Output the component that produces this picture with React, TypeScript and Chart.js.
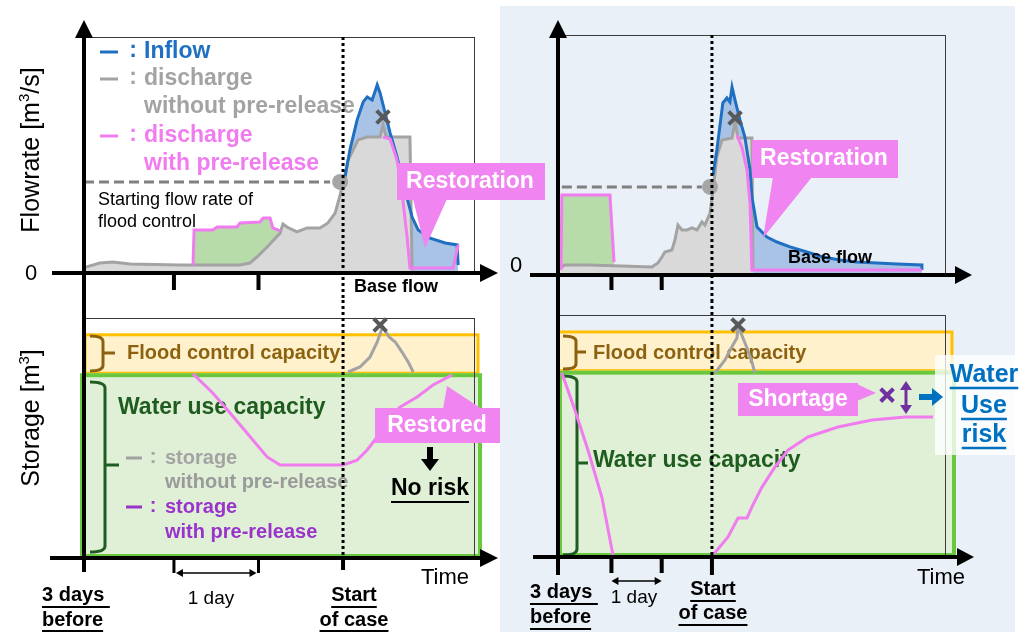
import React, { useEffect, useRef } from "react";
import { Chart, registerables } from "chart.js";

Chart.register(...registerables);

type Pt = [number, number];

// ---------------- DATA (x: hours from start of case, y: relative 0-100) ----------------
const X_RANGE_LEFT: Pt = [-72, 36.4];
const X_RANGE_RIGHT: Pt = [-72, 109];
const DAY_TICKS = [-47, -23.5];
const START_OF_CASE = 0;
const FLOOD_TOP = 93;
const WATER_TOP = 77;

// Left (pre-release worked) – flowrate
const LT_INFLOW: Pt[] = [[0.3, 38.5], [1.9, 52.1], [3.9, 64.8], [5.6, 72.5], [6.7, 74.6], [8.1, 73.3], [9.5, 79.7], [10.3, 76.3], [11.7, 67.8], [13.1, 59.3], [15.0, 49.2], [17.2, 35.2], [19.2, 23.7], [20.9, 18.2], [24.2, 14.8], [28.4, 12.7], [31.7, 11.9], [32.0, 3.4]];
const LT_NO_PRE: Pt[] = [[-71.5, 2.5], [-67.6, 4.2], [-64, 4.7], [-59.2, 3.8], [-45.3, 3.4], [-28.6, 3.4], [-25.9, 4.2], [-23.9, 6.8], [-21.1, 11.0], [-17.5, 16.9], [-16.7, 20.8], [-15.6, 19.5], [-12.8, 17.4], [-10.0, 19.1], [-6.4, 19.1], [-4.2, 21.2], [-2.2, 25.4], [-0.8, 33.1], [0, 38.1], [1.4, 47.9], [4.2, 56.4], [6.7, 57.6], [10.3, 57.6], [11.1, 62.7], [12.0, 57.6], [18.6, 57.6], [19.2, 1.0]];
const LT_PRE: Pt[] = [[-41.7, 3.4], [-41.4, 18.2], [-36.2, 18.2], [-35.0, 19.5], [-29.5, 19.5], [-28.6, 21.2], [-23.1, 21.6], [-22.2, 23.3], [-20.3, 23.3], [-19.5, 19.1], [-17.5, 17.8]];
const LT_PRE_FLOOD: Pt[] = [[11.1, 57.6], [13.1, 56.8], [15.0, 47.9], [16.4, 33.9], [17.8, 15.3], [18.6, 2.1], [30.6, 2.1], [32.0, 11.9]];
const LT_FLOOD_START: Pt[] = [[-72, 38.6], [-3.6, 38.6]];
const LT_CIRCLE: Pt = [-0.8, 38.6];
const LT_CROSS: Pt = [11.1, 66.1];

// Right (pre-release failed) – flowrate
const RT_INFLOW: Pt[] = [[0.5, 41.7], [2.3, 52.1], [5.1, 71.7], [7.0, 73.75], [8.4, 72.1], [9.4, 78.3], [10.8, 72.9], [13.1, 64.6], [15.4, 57.5], [17.8, 43.75], [18.7, 32.5], [21.1, 20], [25.7, 15.8], [30.4, 13.75], [36.5, 11.7], [44.4, 9.6], [51.9, 7.5], [59.9, 6.25], [67.8, 5.4], [77.2, 5.0], [86.5, 4.6], [98.2, 4.2], [98.2, 2.1]];
const RT_NO_PRE: Pt[] = [[-71, 2.9], [-68.8, 4.2], [-58, 4.2], [-42.1, 3.75], [-28.1, 3.3], [-25.3, 5.0], [-23.4, 7.5], [-22.0, 9.6], [-18.7, 10.4], [-17.3, 14.6], [-15.9, 20.8], [-14.0, 18.75], [-11.7, 18.75], [-9.4, 19.6], [-7.0, 18.75], [-4.7, 22.1], [-3.3, 20.8], [-0.9, 25.8], [0.5, 35.4], [2.3, 49.2], [4.7, 56.25], [9.4, 57.1], [10.8, 63.75], [12.2, 57.1], [18.7, 57.1], [19.2, 2.9]];
const RT_PRE: Pt[] = [[-70.6, 2.1], [-70.2, 33.3], [-47.7, 33.3], [-45.8, 5.4]];
const RT_PRE_FLOOD: Pt[] = [[11.7, 58.3], [14.0, 53.3], [16.4, 43.75], [17.8, 30], [18.7, 2.1], [98.2, 2.1]];
const RT_FLOOD_START: Pt[] = [[-70.2, 36.7], [-4.7, 36.7]];
const RT_CIRCLE: Pt = [-0.9, 36.7];
const RT_CROSS: Pt = [10.8, 65.4];

// Left – storage
const LB_NO_PRE: Pt[] = [[1.4, 77.5], [4.7, 79.6], [7.5, 83.75], [9.5, 90], [11.0, 96.5], [12.8, 92.1], [14.5, 90], [16.4, 85.8], [18.1, 81.7], [19.5, 77.5]];
const LB_PRE: Pt[] = [[-41.7, 76.7], [-36.2, 68.75], [-31.4, 60.4], [-26.7, 52.1], [-21.1, 42.1], [-17.5, 38.75], [-8.3, 38.75], [0, 38.75], [3.9, 40.8], [6.7, 45], [9.5, 50.4], [12.2, 57.5], [15.9, 62.9], [20.6, 67.1], [25.0, 72.1], [30.3, 76.25]];
const LB_CROSS: Pt = [10.3, 97.1];

// Right – storage
const RB_NO_PRE: Pt[] = [[1.4, 76.0], [6.1, 81.4], [9.8, 87.6], [11.7, 90.5], [12.2, 95.5], [14.5, 90.5], [16.4, 86.4], [18.7, 80.6], [20.1, 76.0]];
const RB_PRE_DRAW: Pt[] = [[-70.2, 76.0], [-64.1, 60.7], [-58.0, 44.2], [-51.5, 24.8], [-46.3, 0.8]];
const RB_PRE_RECOVER: Pt[] = [[0.5, 0.8], [7.5, 8.3], [12.2, 16.1], [16.4, 16.1], [18.7, 20.7], [23.4, 28.9], [29.5, 37.2], [35.6, 44.2], [44.9, 49.6], [58.9, 53.7], [74.9, 56.6], [90.3, 57.9], [103.4, 57.9]];
const RB_CROSS: Pt = [12.2, 95.9];
const RB_SHORT_CROSS: Pt = [81.9, 66.9];

// ---------------- STYLE ----------------
const W = 1030;
const H = 632;
const FONT = "'Liberation Sans', Arial, Helvetica, sans-serif";
const BLUE = "#1F6FC2";
const BLUE_FILL = "#A9C3E6";
const GRAY_LINE = "#A3A3A3";
const GRAY_FILL = "#D9D9D9";
const PINK = "#F07CF0";
const GREEN_FILL = "#B7DBA9";
const ST_GREEN_FILL = "#E0F0D6";
const ST_GREEN_EDGE = "#6AC83F";
const ORANGE_FILL = "#FFF1CC";
const ORANGE_EDGE = "#FFC000";
const BROWN = "#8C6210";
const DKGREEN = "#1F5C1F";
const PURPLE = "#7030A0";
const PURPLE_TEXT = "#9933CC";
const XGRAY = "#595959";
const DASH_GRAY = "#808080";
const CALLOUT = "#F084F0";
const BG_RIGHT = "#EAF0F7";
const RISK_BLUE = "#0070C0";

// ---------------- helpers ----------------
type Ctx = CanvasRenderingContext2D;
const pts = (a: Pt[]) => a.map(([x, y]) => ({ x, y }));

function seg(ctx: Ctx, x1: number, y1: number, x2: number, y2: number, color: string, lw: number, dash: number[] = []) {
  ctx.save();
  ctx.beginPath();
  ctx.strokeStyle = color;
  ctx.lineWidth = lw;
  ctx.setLineDash(dash);
  ctx.moveTo(x1, y1);
  ctx.lineTo(x2, y2);
  ctx.stroke();
  ctx.restore();
}
function poly(ctx: Ctx, p: number[][], color: string) {
  ctx.save();
  ctx.beginPath();
  ctx.fillStyle = color;
  ctx.moveTo(p[0][0], p[0][1]);
  for (let i = 1; i < p.length; i++) ctx.lineTo(p[i][0], p[i][1]);
  ctx.closePath();
  ctx.fill();
  ctx.restore();
}
function txt(ctx: Ctx, s: string, x: number, y: number, size: number, color: string, bold = false, align: CanvasTextAlign = "left"): number {
  ctx.save();
  ctx.font = `${bold ? "bold " : ""}${size}px ${FONT}`;
  ctx.fillStyle = color;
  ctx.textAlign = align;
  ctx.textBaseline = "middle";
  ctx.fillText(s, x, y);
  const w = ctx.measureText(s).width;
  ctx.restore();
  return w;
}
function utxt(ctx: Ctx, s: string, x: number, y: number, size: number, color: string, bold: boolean, align: CanvasTextAlign, uy: number, lw = 2) {
  const w = txt(ctx, s, x, y, size, color, bold, align);
  const x1 = align === "center" ? x - w / 2 : x;
  seg(ctx, x1, uy, x1 + w, uy, color, lw);
}
function rotLabel(ctx: Ctx, pre: string, sup: string, post: string, cx: number, cy: number, size: number) {
  ctx.save();
  ctx.translate(cx, cy);
  ctx.rotate(-Math.PI / 2);
  const f = `${size}px ${FONT}`;
  const fs = `${Math.round(size * 0.6)}px ${FONT}`;
  ctx.font = f;
  const w1 = ctx.measureText(pre).width;
  const w3 = ctx.measureText(post).width;
  ctx.font = fs;
  const w2 = ctx.measureText(sup).width;
  let x = -(w1 + w2 + w3) / 2;
  ctx.fillStyle = "#000";
  ctx.textBaseline = "middle";
  ctx.textAlign = "left";
  ctx.font = f;
  ctx.fillText(pre, x, 0);
  x += w1;
  ctx.font = fs;
  ctx.fillText(sup, x, -size * 0.3);
  x += w2;
  ctx.font = f;
  ctx.fillText(post, x, 0);
  ctx.restore();
}
function brace(ctx: Ctx, x0: number, x1: number, x2: number, yTop: number, yMid: number, yBot: number, color: string, lw = 3) {
  const r = Math.min(6, (yMid - yTop) / 3);
  ctx.save();
  ctx.beginPath();
  ctx.strokeStyle = color;
  ctx.lineWidth = lw;
  ctx.lineJoin = "round";
  ctx.moveTo(x0, yTop);
  ctx.quadraticCurveTo(x1, yTop, x1, yTop + r);
  ctx.lineTo(x1, yBot - r);
  ctx.quadraticCurveTo(x1, yBot, x0, yBot);
  ctx.moveTo(x1, yMid);
  ctx.lineTo(x2, yMid);
  ctx.stroke();
  ctx.restore();
}
function callout(ctx: Ctx, rect: number[], tail: number[][], label: string, cx: number, cy: number) {
  ctx.save();
  ctx.fillStyle = CALLOUT;
  ctx.fillRect(rect[0], rect[1], rect[2] - rect[0], rect[3] - rect[1]);
  ctx.restore();
  poly(ctx, tail, CALLOUT);
  txt(ctx, label, cx, cy, 23, "#fff", true, "center");
}
function hArrowDouble(ctx: Ctx, x1: number, x2: number, y: number) {
  seg(ctx, x1 + 2, y, x2 - 2, y, "#000", 1.5);
  poly(ctx, [[x1, y], [x1 + 7, y - 4], [x1 + 7, y + 4]], "#000");
  poly(ctx, [[x2, y], [x2 - 7, y - 4], [x2 - 7, y + 4]], "#000");
}
function box(ctx: Ctx, ca: any) {
  ctx.save();
  ctx.strokeStyle = "#3a3a3a";
  ctx.lineWidth = 1;
  ctx.strokeRect(Math.round(ca.left) + 0.5, Math.round(ca.top) + 0.5, ca.right - ca.left, ca.bottom - ca.top);
  ctx.restore();
}
function legendRow(ctx: Ctx, y: number, color: string, label: string, size: number, d1: number, d2: number, cxCol: number, tx: number) {
  seg(ctx, d1, y, d2, y, color, 3);
  txt(ctx, ":", cxCol, y - 1, size, color, true, "center");
  txt(ctx, label, tx, y, size, color, true);
}

// ---------------- dataset builders ----------------
const fillDs = (d: Pt[], bg: string) => ({ data: pts(d), borderWidth: 0, borderColor: "rgba(0,0,0,0)", backgroundColor: bg, fill: "origin", pointRadius: 0 });
const lineDs = (d: Pt[], color: string, lw = 3, dash: number[] = []) => ({ data: pts(d), borderWidth: lw, borderColor: color, borderDash: dash, fill: false, pointRadius: 0 });
const grayDs = (d: Pt[]) => ({ data: pts(d), borderWidth: 3, borderColor: GRAY_LINE, backgroundColor: GRAY_FILL, fill: "origin", pointRadius: 0 });
const markDs = (p: Pt, style: string, r: number, color: string, bw: number) => ({
  data: pts([p]), showLine: false, pointStyle: style, pointRadius: r, pointBorderColor: color, pointBackgroundColor: color, pointBorderWidth: bw, clip: false,
});

function makeConfig(area: { l: number; t: number; r: number; b: number }, xr: Pt, layers: any[], before: (c: any) => void, after: (c: any) => void): any {
  const datasets = layers.map((d, i) => ({ tension: 0, ...d, order: layers.length - i }));
  return {
    type: "line",
    data: { datasets },
    options: {
      responsive: false,
      animation: false,
      events: [],
      layout: { padding: { left: area.l, top: area.t, right: W - area.r, bottom: H - area.b } },
      plugins: { legend: { display: false }, tooltip: { enabled: false }, title: { display: false } },
      scales: {
        x: { type: "linear", min: xr[0], max: xr[1], display: false },
        y: { type: "linear", min: 0, max: 100, display: false },
      },
    },
    plugins: [{ id: "decor", beforeDatasetsDraw: (c: any) => before(c), afterDatasetsDraw: (c: any) => after(c) }],
  };
}

// ---------------- charts ----------------
function cfgLT() {
  const layers = [
    fillDs(LT_INFLOW, BLUE_FILL),
    fillDs(LT_PRE, GREEN_FILL),
    grayDs(LT_NO_PRE),
    lineDs(LT_INFLOW, BLUE),
    lineDs(LT_PRE, PINK),
    lineDs(LT_PRE_FLOOD, PINK),
    lineDs(LT_FLOOD_START, DASH_GRAY, 3, [10, 5]),
    markDs(LT_CIRCLE, "circle", 8, "#A6A6A6", 0),
    markDs(LT_CROSS, "crossRot", 9, XGRAY, 4),
  ];
  const before = (c: any) => {
    const ctx: Ctx = c.ctx;
    box(ctx, c.chartArea);
    legendRow(ctx, 52, BLUE, "Inflow", 23, 100, 118, 133, 144);
    legendRow(ctx, 79, GRAY_LINE, "discharge", 23, 100, 118, 133, 144);
    txt(ctx, "without pre-release", 144, 107, 23, GRAY_LINE, true);
    legendRow(ctx, 136, PINK, "discharge", 23, 100, 118, 133, 144);
    txt(ctx, "with pre-release", 144, 164, 23, PINK, true);
    txt(ctx, "Starting flow rate of", 98, 200, 18, "#000");
    txt(ctx, "flood control", 98, 222, 18, "#000");
  };
  const after = (c: any) => {
    const ctx: Ctx = c.ctx;
    const ca = c.chartArea;
    const xs = c.scales.x;
    const x0 = xs.getPixelForValue(START_OF_CASE);
    seg(ctx, x0, ca.top, x0, 300, "#000", 3, [3, 3]);
    seg(ctx, ca.left, 36, ca.left, 300, "#000", 4);
    poly(ctx, [[ca.left - 9, 38], [ca.left + 9, 38], [ca.left, 20]], "#000");
    seg(ctx, 52, ca.bottom, 482, ca.bottom, "#000", 4);
    poly(ctx, [[480, ca.bottom - 9], [480, ca.bottom + 9], [498, ca.bottom]], "#000");
    DAY_TICKS.forEach((t) => { const x = xs.getPixelForValue(t); seg(ctx, x, ca.bottom, x, 290, "#000", 4); });
    txt(ctx, "0", 31, 274, 22, "#000", false, "center");
    rotLabel(ctx, "Flowrate [m", "3", "/s]", 32, 150, 25);
    txt(ctx, "Base flow", 396, 287, 18, "#000", true, "center");
    callout(ctx, [397, 163, 545, 200], [[413, 199], [447, 199], [425, 248]], "Restoration", 470, 182);
  };
  return makeConfig({ l: 84, t: 37, r: 474, b: 273 }, X_RANGE_LEFT, layers, before, after);
}

function cfgRT() {
  const layers = [
    fillDs(RT_INFLOW, BLUE_FILL),
    fillDs(RT_PRE, GREEN_FILL),
    grayDs(RT_NO_PRE),
    lineDs(RT_INFLOW, BLUE),
    lineDs(RT_PRE, PINK),
    lineDs(RT_PRE_FLOOD, PINK),
    lineDs(RT_FLOOD_START, DASH_GRAY, 3, [10, 5]),
    markDs(RT_CIRCLE, "circle", 8, "#A6A6A6", 0),
    markDs(RT_CROSS, "crossRot", 9, XGRAY, 4),
  ];
  const before = (c: any) => {
    box(c.ctx, c.chartArea);
  };
  const after = (c: any) => {
    const ctx: Ctx = c.ctx;
    const ca = c.chartArea;
    const xs = c.scales.x;
    const x0 = xs.getPixelForValue(START_OF_CASE);
    seg(ctx, x0, ca.top, x0, 300, "#000", 3, [3, 3]);
    seg(ctx, ca.left, 36, ca.left, 300, "#000", 4);
    poly(ctx, [[ca.left - 9, 38], [ca.left + 9, 38], [ca.left, 20]], "#000");
    seg(ctx, 530, ca.bottom, 957, ca.bottom, "#000", 4);
    poly(ctx, [[955, ca.bottom - 9], [955, ca.bottom + 9], [972, ca.bottom]], "#000");
    DAY_TICKS.forEach((t) => { const x = xs.getPixelForValue(t); seg(ctx, x, ca.bottom, x, 290, "#000", 4); });
    txt(ctx, "0", 516, 266, 22, "#000", false, "center");
    txt(ctx, "Base flow", 830, 258, 18, "#000", true, "center");
    callout(ctx, [752, 140, 898, 178], [[773, 177], [812, 177], [763, 238]], "Restoration", 824, 159);
  };
  return makeConfig({ l: 558, t: 35, r: 945, b: 275 }, X_RANGE_RIGHT, layers, before, after);
}

function storageBands(c: any, oL: number, oR: number, gL: number, gR: number) {
  const ctx: Ctx = c.ctx;
  const ca = c.chartArea;
  const ys = c.scales.y;
  const yF = ys.getPixelForValue(FLOOD_TOP);
  const yW = ys.getPixelForValue(WATER_TOP);
  const yB = ca.bottom - 2;
  ctx.save();
  ctx.fillStyle = ORANGE_FILL;
  ctx.fillRect(ca.left + oL, yF, ca.right + oR - ca.left - oL, yW - yF);
  ctx.strokeStyle = ORANGE_EDGE;
  ctx.lineWidth = 3;
  ctx.strokeRect(ca.left + oL, yF, ca.right + oR - ca.left - oL, yW - yF);
  ctx.fillStyle = ST_GREEN_FILL;
  ctx.fillRect(ca.left + gL, yW, ca.right + gR - ca.left - gL, yB - yW);
  ctx.strokeStyle = ST_GREEN_EDGE;
  ctx.lineWidth = 4;
  ctx.strokeRect(ca.left + gL, yW + 2, ca.right + gR - ca.left - gL, yB - yW - 2);
  ctx.restore();
  box(ctx, ca);
}

function cfgLB() {
  const layers = [
    lineDs(LB_NO_PRE, GRAY_LINE),
    lineDs(LB_PRE, PINK),
    markDs(LB_CROSS, "crossRot", 9, XGRAY, 4),
  ];
  const before = (c: any) => {
    const ctx: Ctx = c.ctx;
    storageBands(c, 1, 4, -2, 6);
    brace(ctx, 90, 103, 115, 336, 353, 371, BROWN);
    brace(ctx, 90, 105, 119, 382, 465, 552, DKGREEN);
    txt(ctx, "Flood control capacity", 127, 353, 20, BROWN, true);
    txt(ctx, "Water use capacity", 118, 408, 23, DKGREEN, true);
    legendRow(ctx, 458, GRAY_LINE, "storage", 20, 126, 142, 153, 165);
    txt(ctx, "without pre-release", 165, 482, 20, "#9A9A9A", true);
    legendRow(ctx, 507, PURPLE_TEXT, "storage", 20, 126, 142, 153, 165);
    txt(ctx, "with pre-release", 165, 532, 20, PURPLE_TEXT, true);
  };
  const after = (c: any) => {
    const ctx: Ctx = c.ctx;
    const ca = c.chartArea;
    const xs = c.scales.x;
    const x0 = xs.getPixelForValue(START_OF_CASE);
    seg(ctx, x0, 300, x0, ca.bottom - 2, "#000", 3, [3, 3]);
    seg(ctx, ca.left, 300, ca.left, 572, "#000", 4);
    seg(ctx, 50, ca.bottom, 482, ca.bottom, "#000", 4);
    poly(ctx, [[480, ca.bottom - 9], [480, ca.bottom + 9], [498, ca.bottom]], "#000");
    const tx = DAY_TICKS.map((t) => xs.getPixelForValue(t));
    tx.forEach((x) => seg(ctx, x, ca.bottom, x, 573, "#000", 3));
    seg(ctx, x0, ca.bottom, x0, 570, "#000", 4);
    hArrowDouble(ctx, tx[0] + 2, tx[1] - 2, 573);
    rotLabel(ctx, "Storage [m", "3", "]", 32, 418, 25);
    callout(ctx, [375, 408, 500, 443], [[443, 409], [447, 386], [482, 409]], "Restored", 437, 426);
    // down arrow + No risk
    ctx.save();
    ctx.fillStyle = "#000";
    ctx.fillRect(427, 447, 6, 13);
    ctx.restore();
    poly(ctx, [[421, 459], [439, 459], [430, 471]], "#000");
    utxt(ctx, "No risk", 430, 489, 23, "#000", true, "center", 502, 2);
    txt(ctx, "Time", 421, 578, 22, "#000");
    txt(ctx, "1 day", 211, 599, 19, "#000", false, "center");
    utxt(ctx, "3 days ", 42, 595, 20, "#000", true, "left", 607);
    utxt(ctx, "before", 42, 620, 20, "#000", true, "left", 631);
    utxt(ctx, "Start", 354, 595, 20, "#000", true, "center", 607);
    utxt(ctx, "of case", 354, 620, 20, "#000", true, "center", 631);
  };
  return makeConfig({ l: 84, t: 318, r: 474, b: 558 }, X_RANGE_LEFT, layers, before, after);
}

function cfgRB() {
  const layers = [
    lineDs(RB_NO_PRE, GRAY_LINE),
    lineDs(RB_PRE_DRAW, PINK),
    lineDs(RB_PRE_RECOVER, PINK),
    markDs(RB_CROSS, "crossRot", 9, XGRAY, 4),
    markDs(RB_SHORT_CROSS, "crossRot", 9, PURPLE, 4),
  ];
  const before = (c: any) => {
    const ctx: Ctx = c.ctx;
    storageBands(c, 0, 7, 2, 9);
    brace(ctx, 563, 576, 586, 336, 352, 369, BROWN);
    brace(ctx, 563, 577, 588, 376, 463, 555, DKGREEN);
    txt(ctx, "Flood control capacity", 593, 353, 20, BROWN, true);
    txt(ctx, "Water use capacity", 593, 461, 23, DKGREEN, true);
  };
  const after = (c: any) => {
    const ctx: Ctx = c.ctx;
    const ca = c.chartArea;
    const xs = c.scales.x;
    const x0 = xs.getPixelForValue(START_OF_CASE);
    seg(ctx, x0, 300, x0, ca.bottom - 2, "#000", 3, [3, 3]);
    seg(ctx, ca.left, 300, ca.left, 575, "#000", 4);
    seg(ctx, 533, ca.bottom, 960, ca.bottom, "#000", 4);
    poly(ctx, [[957, ca.bottom - 9], [957, ca.bottom + 9], [974, ca.bottom]], "#000");
    const tx = DAY_TICKS.map((t) => xs.getPixelForValue(t));
    tx.forEach((x) => seg(ctx, x, ca.bottom, x, 573, "#000", 4));
    seg(ctx, x0, ca.bottom, x0, 575, "#000", 4);
    hArrowDouble(ctx, tx[0], tx[1], 581);
    callout(ctx, [738, 383, 858, 416], [[857, 384], [876, 393], [857, 401]], "Shortage", 798, 400);
    // purple double arrow
    seg(ctx, 906, 386, 906, 409, PURPLE, 3);
    poly(ctx, [[900, 390], [912, 390], [906, 381]], PURPLE);
    poly(ctx, [[900, 405], [912, 405], [906, 414]], PURPLE);
    // risk box (behind the arrow)
    ctx.save();
    ctx.fillStyle = "rgba(255,255,255,0.78)";
    ctx.fillRect(935, 355, 80, 100);
    ctx.restore();
    // blue arrow
    ctx.save();
    ctx.fillStyle = RISK_BLUE;
    ctx.fillRect(919, 394, 14, 6);
    ctx.restore();
    poly(ctx, [[932, 388], [932, 406], [943, 397]], RISK_BLUE);
    utxt(ctx, "Water", 984, 375, 25, RISK_BLUE, true, "center", 388, 2.5);
    utxt(ctx, "Use", 984, 406, 25, RISK_BLUE, true, "center", 419, 2.5);
    utxt(ctx, "risk", 984, 435, 25, RISK_BLUE, true, "center", 448, 2.5);
    txt(ctx, "Time", 917, 578, 22, "#000");
    txt(ctx, "1 day", 634, 598, 19, "#000", false, "center");
    utxt(ctx, "3 days ", 530, 592, 20, "#000", true, "left", 604);
    utxt(ctx, "before", 530, 617, 20, "#000", true, "left", 629);
    utxt(ctx, "Start", 713, 589, 20, "#000", true, "center", 601);
    utxt(ctx, "of case", 713, 613, 20, "#000", true, "center", 625);
  };
  return makeConfig({ l: 558, t: 315, r: 945, b: 557 }, X_RANGE_RIGHT, layers, before, after);
}

export default function App() {
  const rLB = useRef<HTMLCanvasElement>(null);
  const rRB = useRef<HTMLCanvasElement>(null);
  const rLT = useRef<HTMLCanvasElement>(null);
  const rRT = useRef<HTMLCanvasElement>(null);

  useEffect(() => {
    const charts = [
      new Chart(rLB.current!, cfgLB()),
      new Chart(rRB.current!, cfgRB()),
      new Chart(rLT.current!, cfgLT()),
      new Chart(rRT.current!, cfgRT()),
    ];
    return () => charts.forEach((c) => c.destroy());
  }, []);

  const cs: React.CSSProperties = { position: "absolute", left: 0, top: 0, width: W, height: H, pointerEvents: "none" };
  return (
    <div style={{ position: "fixed", left: 0, top: 0, width: W, height: H, background: "#fff", overflow: "hidden" }}>
      <div style={{ position: "absolute", left: 500, top: 6, width: 515, height: H - 6, background: BG_RIGHT }} />
      <canvas ref={rLB} width={W} height={H} style={cs} />
      <canvas ref={rRB} width={W} height={H} style={cs} />
      <canvas ref={rLT} width={W} height={H} style={cs} />
      <canvas ref={rRT} width={W} height={H} style={cs} />
    </div>
  );
}
